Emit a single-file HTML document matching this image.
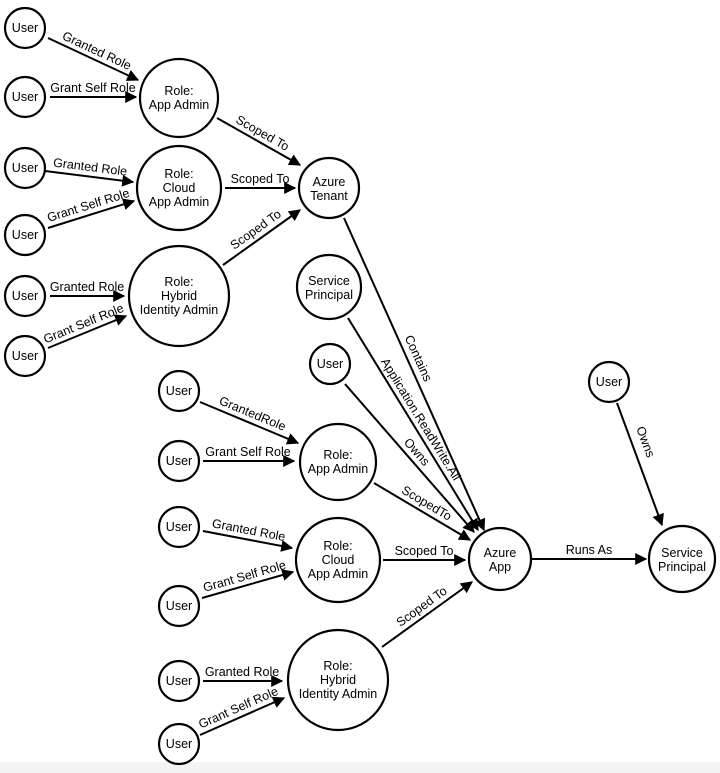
<!DOCTYPE html>
<html><head><meta charset="utf-8"><style>
html,body{margin:0;padding:0;background:#fff;}
svg{display:block;font-family:"Liberation Sans",sans-serif;}
text{font-size:12.5px;fill:#000;}
</style></head><body>
<svg width="720" height="773" viewBox="0 0 720 773" xmlns="http://www.w3.org/2000/svg">
<defs><marker id="a" viewBox="0 0 10 10" refX="9" refY="5" markerWidth="6" markerHeight="6" orient="auto"><path d="M0,0 L10,5 L0,10 z" fill="#000"/></marker></defs>
<rect width="720" height="773" fill="#fff"/>
<rect x="0" y="762" width="720" height="11" fill="#f4f4f4"/>
<g fill="#fff" stroke="#000" stroke-width="2.2">
<circle cx="25" cy="28" r="20"/><circle cx="25" cy="97" r="20"/><circle cx="25" cy="168" r="20"/>
<circle cx="25" cy="235" r="20"/><circle cx="25" cy="296" r="20"/><circle cx="25" cy="356" r="20"/>
<circle cx="179" cy="98" r="39"/><circle cx="179" cy="188" r="42"/><circle cx="179" cy="296" r="50"/>
<circle cx="329" cy="188" r="30"/><circle cx="329" cy="287" r="32"/><circle cx="330" cy="364" r="20"/>
<circle cx="179" cy="391" r="20"/><circle cx="179" cy="461" r="20"/><circle cx="179" cy="527" r="20"/>
<circle cx="179" cy="606" r="20"/><circle cx="179" cy="681" r="20"/><circle cx="179" cy="744" r="20"/>
<circle cx="338" cy="462" r="38"/><circle cx="338" cy="560" r="42"/><circle cx="338" cy="680" r="50"/>
<circle cx="500" cy="559" r="31"/><circle cx="682" cy="559" r="33"/><circle cx="609" cy="382" r="20"/>
</g>
<g stroke="#000" stroke-width="2" marker-end="url(#a)">
<line x1="48" y1="38" x2="138" y2="80"/><line x1="50" y1="97" x2="136" y2="97"/>
<line x1="45" y1="171" x2="133" y2="182"/><line x1="48" y1="228" x2="134" y2="201"/>
<line x1="50" y1="296" x2="124" y2="296"/><line x1="48" y1="348" x2="126" y2="316"/>
<line x1="217" y1="118" x2="300" y2="165"/><line x1="225" y1="188" x2="295" y2="188"/>
<line x1="223" y1="265" x2="300" y2="210"/>
<line x1="344" y1="218" x2="484" y2="530"/><line x1="348" y1="318" x2="478" y2="530"/>
<line x1="345" y1="384" x2="474" y2="532"/>
<line x1="200" y1="402" x2="298" y2="443"/><line x1="203" y1="461" x2="294" y2="461"/>
<line x1="203" y1="531" x2="292" y2="548"/><line x1="202" y1="598" x2="293" y2="572"/>
<line x1="203" y1="681" x2="282" y2="681"/><line x1="200" y1="735" x2="284" y2="698"/>
<line x1="374" y1="483" x2="470" y2="540"/><line x1="383" y1="560" x2="465" y2="560"/>
<line x1="382" y1="647" x2="472" y2="582"/><line x1="532" y1="559" x2="646" y2="559"/>
<line x1="617" y1="403" x2="662" y2="525"/>
</g>
<g text-anchor="middle">
<text x="25" y="32">User</text><text x="25" y="101">User</text><text x="25" y="172">User</text>
<text x="25" y="239">User</text><text x="25" y="300">User</text><text x="25" y="360">User</text>
<text x="179" y="95">Role:</text><text x="179" y="109">App Admin</text>
<text x="179" y="178">Role:</text><text x="179" y="192">Cloud</text><text x="179" y="206">App Admin</text>
<text x="179" y="286">Role:</text><text x="179" y="300">Hybrid</text><text x="179" y="314">Identity Admin</text>
<text x="329" y="186">Azure</text><text x="329" y="200">Tenant</text>
<text x="329" y="285">Service</text><text x="329" y="299">Principal</text>
<text x="330" y="368">User</text>
<text x="179" y="395">User</text><text x="179" y="465">User</text><text x="179" y="531">User</text>
<text x="179" y="610">User</text><text x="179" y="685">User</text><text x="179" y="748">User</text>
<text x="338" y="459">Role:</text><text x="338" y="473">App Admin</text>
<text x="338" y="550">Role:</text><text x="338" y="564">Cloud</text><text x="338" y="578">App Admin</text>
<text x="338" y="670">Role:</text><text x="338" y="684">Hybrid</text><text x="338" y="698">Identity Admin</text>
<text x="500" y="557">Azure</text><text x="500" y="571">App</text>
<text x="682" y="557">Service</text><text x="682" y="571">Principal</text>
<text x="609" y="386">User</text>
</g>
<g text-anchor="middle">
<text transform="translate(93,59) rotate(25)" y="-5">Granted Role</text>
<text transform="translate(93,97)" y="-5">Grant Self Role</text>
<text transform="translate(89,176) rotate(7.1)" y="-5">Granted Role</text>
<text transform="translate(91,214) rotate(-17.4)" y="-5">Grant Self Role</text>
<text transform="translate(87,296)" y="-5">Granted Role</text>
<text transform="translate(87,332) rotate(-22.3)" y="-5">Grant Self Role</text>
<text transform="translate(258,141) rotate(29.5)" y="-5">Scoped To</text>
<text transform="translate(260,188)" y="-5">Scoped To</text>
<text transform="translate(261,237) rotate(-35.5)" y="-5">Scoped To</text>
<text transform="translate(410,362) rotate(65.8)" y="-5">Contains</text>
<text transform="translate(413,424) rotate(58.5)" y="-5">Application.ReadWrite.All</text>
<text transform="translate(410,458) rotate(48.9)" y="-5">Owns</text>
<text transform="translate(249,422) rotate(22.7)" y="-5">GrantedRole</text>
<text transform="translate(248,461)" y="-5">Grant Self Role</text>
<text transform="translate(247,539) rotate(10.8)" y="-5">Granted Role</text>
<text transform="translate(247,585) rotate(-15.9)" y="-5">Grant Self Role</text>
<text transform="translate(242,681)" y="-5">Granted Role</text>
<text transform="translate(242,716) rotate(-23.8)" y="-5">Grant Self Role</text>
<text transform="translate(422,511) rotate(30.7)" y="-5">ScopedTo</text>
<text transform="translate(424,560)" y="-5">Scoped To</text>
<text transform="translate(427,614) rotate(-35.8)" y="-5">Scoped To</text>
<text transform="translate(589,559)" y="-5">Runs As</text>
<text transform="translate(637,445) rotate(69.7)" y="-5">Owns</text>
</g>
</svg>
</body></html>
